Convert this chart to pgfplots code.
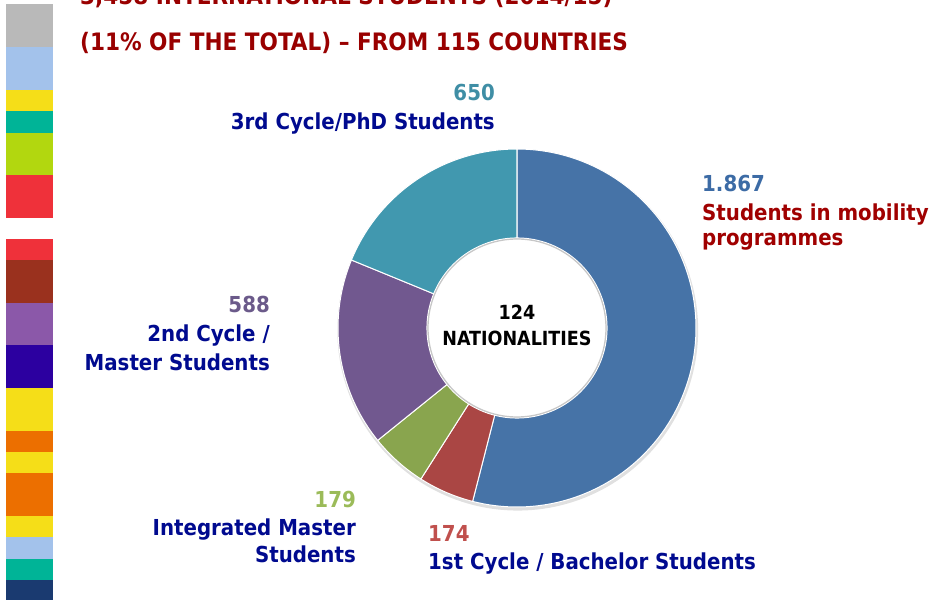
\documentclass[border=0pt]{standalone}
\usepackage{pgfplots}
\pgfplotsset{compat=1.18}
\usepackage{fontspec}
\setmainfont{DejaVu Sans Condensed}[BoldFont={DejaVu Sans Condensed Bold}]
\definecolor{sBlue}{HTML}{4673A7}
\definecolor{sRed}{HTML}{AA4644}
\definecolor{sGreen}{HTML}{89A54E}
\definecolor{sPurple}{HTML}{71588F}
\definecolor{sTeal}{HTML}{4198AF}
\definecolor{nBlue}{HTML}{3C6BA5}
\definecolor{nRed}{HTML}{C0504D}
\definecolor{nGreen}{HTML}{9BBB59}
\definecolor{nPurple}{HTML}{6B5A8A}
\definecolor{nTeal}{HTML}{3F8EA5}
\definecolor{lblBlue}{HTML}{000A8F}
\definecolor{lblRed}{HTML}{A00000}
\definecolor{ttlRed}{HTML}{990000}
\definecolor{bGray}{HTML}{B9B9B9}
\definecolor{bLBlue}{HTML}{A3C2EB}
\definecolor{bYellow}{HTML}{F5DE18}
\definecolor{bTeal}{HTML}{00B497}
\definecolor{bLime}{HTML}{B2D70F}
\definecolor{bRed}{HTML}{EF313A}
\definecolor{bBrown}{HTML}{9A311E}
\definecolor{bPurple}{HTML}{8B58A9}
\definecolor{bIndigo}{HTML}{2C00A0}
\definecolor{bOrange}{HTML}{EC6F00}
\definecolor{bNavy}{HTML}{1A3A70}
% values
\def\vA{1867}\def\vB{174}\def\vC{179}\def\vD{588}\def\vE{650}
\newcommand{\donutslice}[3]{%
\addplot[fill=#1, draw=white, line width=1pt, variable=\t, domain=0:201, samples=202]
 ({ifthenelse(\t<=100, cos((#2)+((#3)-(#2))*\t/100), 0.503*cos((#3)+((#2)-(#3))*(\t-101)/100))},
  {ifthenelse(\t<=100, sin((#2)+((#3)-(#2))*\t/100), 0.503*sin((#3)+((#2)-(#3))*(\t-101)/100))}) -- cycle;}
\begin{document}
\begin{tikzpicture}
\pgfmathsetmacro{\tot}{\vA+\vB+\vC+\vD+\vE}
\pgfmathsetmacro{\aA}{90}
\pgfmathsetmacro{\aB}{\aA-360*(\vA/\tot)}
\pgfmathsetmacro{\aC}{\aB-360*(\vB/\tot)}
\pgfmathsetmacro{\aD}{\aC-360*(\vC/\tot)}
\pgfmathsetmacro{\aE}{\aD-360*(\vD/\tot)}
\pgfmathsetmacro{\aF}{\aE-360*(\vE/\tot)}
\begin{scope}[x=1pt,y=1pt]
\useasboundingbox (0,0) rectangle (931,600);
\begin{scope}
\clip (0,0) rectangle (931,600);
% decorative strip (px top -> bottom)
\def\blk#1#2#3{\fill[#1] (6,600-#2) rectangle (53,600-#3);}
\blk{bGray}{4}{47}\blk{bLBlue}{47}{90}\blk{bYellow}{90}{111}\blk{bTeal}{111}{133}
\blk{bLime}{133}{175}\blk{bRed}{175}{218}\blk{bRed}{239}{260}\blk{bBrown}{260}{303}
\blk{bPurple}{303}{345}\blk{bIndigo}{345}{388}\blk{bYellow}{388}{431}\blk{bOrange}{431}{452}
\blk{bYellow}{452}{473}\blk{bOrange}{473}{516}\blk{bYellow}{516}{537}\blk{bLBlue}{537}{559}
\blk{bTeal}{559}{580}\blk{bNavy}{580}{600}
% titles
\node[anchor=base west, inner sep=0, font=\fontsize{24}{28}\selectfont\bfseries, text=ttlRed] at (80,600-5) {3,458 INTERNATIONAL STUDENTS (2014/15)};
\node[anchor=base west, inner sep=0, font=\fontsize{24}{28}\selectfont\bfseries, text=ttlRed] at (80,600-51) {(11\% OF THE TOTAL) – FROM 115 COUNTRIES};
\end{scope}
\end{scope}
\begin{axis}[at={(517pt,272pt)}, anchor=center, scale only axis, width=358pt, height=358pt,
  xmin=-1, xmax=1, ymin=-1, ymax=1, hide axis, clip=false]
\addplot[fill=black!12, draw=none, domain=0:360, samples=181] ({0.004+1.008*cos(x)},{-0.012+1.008*sin(x)}) -- cycle;
\donutslice{sBlue}{\aA}{\aB}
\donutslice{sRed}{\aB}{\aC}
\donutslice{sGreen}{\aC}{\aD}
\donutslice{sPurple}{\aD}{\aE}
\donutslice{sTeal}{\aE}{\aF}
\addplot[fill=white, draw=black!22, line width=1.2pt, domain=0:360, samples=181] ({0.497*cos(x)},{0.497*sin(x)}) -- cycle;
\end{axis}
\begin{scope}[x=1pt,y=1pt]
% centre text
\node[anchor=base, inner sep=0, font=\fontsize{19.5}{22}\selectfont\bfseries] at (517,600-320) {124};
\node[anchor=base, inner sep=0, font=\fontsize{19.5}{22}\selectfont\bfseries] at (517,600-346) {NATIONALITIES};
% labels
\tikzset{lb/.style={inner sep=0, font=\fontsize{22}{24}\selectfont\bfseries}}
\node[lb, anchor=base east, text=nTeal] at (495,600-101) {650};
\node[lb, anchor=base east, text=lblBlue] at (495,600-130) {3rd Cycle/PhD Students};
\node[lb, anchor=base west, text=nBlue] at (702,600-192) {1.867};
\node[lb, anchor=base west, text=lblRed] at (702,600-221) {Students in mobility};
\node[lb, anchor=base west, text=lblRed] at (702,600-246) {programmes};
\node[lb, anchor=base east, text=nPurple] at (270,600-313) {588};
\node[lb, anchor=base east, text=lblBlue] at (270,600-342) {2nd Cycle /};
\node[lb, anchor=base east, text=lblBlue] at (270,600-371) {Master Students};
\node[lb, anchor=base east, text=nGreen] at (356,600-507) {179};
\node[lb, anchor=base east, text=lblBlue] at (356,600-535) {Integrated Master};
\node[lb, anchor=base east, text=lblBlue] at (356,600-562) {Students};
\node[lb, anchor=base west, text=nRed] at (428,600-541) {174};
\node[lb, anchor=base west, text=lblBlue] at (428,600-569) {1st Cycle / Bachelor Students};
\end{scope}
\end{tikzpicture}
\end{document}
